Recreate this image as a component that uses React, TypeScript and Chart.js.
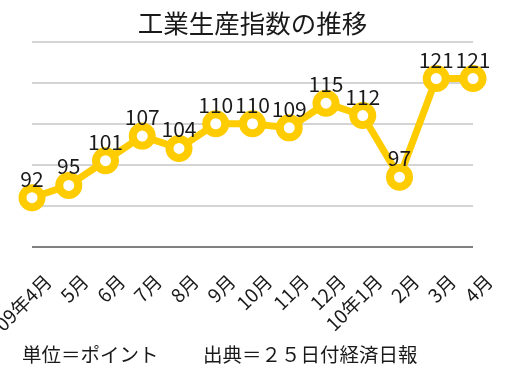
import React, { useEffect, useRef } from 'react';
import { Chart, registerables } from 'chart.js';

Chart.register(...registerables);

const categories = ['09年4月', '5月', '6月', '7月', '8月', '9月', '10月', '11月', '12月', '10年1月', '2月', '3月', '4月'];
const values = [92, 95, 101, 107, 104, 110, 110, 109, 115, 112, 97, 121, 121];
const yMin = 80;
const yMax = 130;
const yStep = 10;
const titleText = '工業生産指数の推移';
const noteUnit = '単位＝ポイント';
const noteSource = '出典＝２５日付経済日報';

const FONT = '"Noto Sans CJK JP", "Noto Sans", sans-serif';
const YELLOW = '#FFCC00';

const valueLabelPlugin = {
  id: 'valueLabels',
  afterDatasetsDraw(chart: any) {
    const ctx = chart.ctx;
    const meta = chart.getDatasetMeta(0);
    ctx.save();
    ctx.font = `21px ${FONT}`;
    ctx.fillStyle = '#1a1a1a';
    ctx.textAlign = 'center';
    ctx.textBaseline = 'middle';
    meta.data.forEach((el: any, i: number) => {
      ctx.fillText(String(values[i]), el.x, el.y - 19);
    });
    ctx.restore();
  },
};

export default function App() {
  const ref = useRef<HTMLCanvasElement | null>(null);

  useEffect(() => {
    if (!ref.current) return;
    const chart = new Chart(ref.current, {
      type: 'line',
      data: {
        labels: categories,
        datasets: [
          {
            data: values,
            borderColor: YELLOW,
            borderWidth: 7,
            backgroundColor: '#ffffff',
            pointBackgroundColor: '#ffffff',
            pointBorderColor: YELLOW,
            pointBorderWidth: 8,
            pointRadius: 9.5,
            pointHoverRadius: 9.5,
            tension: 0,
            fill: false,
            clip: false as any,
          },
        ],
      },
      options: {
        responsive: false,
        animation: false,
        layout: { padding: { left: 32, right: 51, top: 0, bottom: 0 } },
        plugins: {
          legend: { display: false },
          tooltip: { enabled: false },
          title: {
            display: true,
            text: titleText,
            color: '#1a1a1a',
            font: { family: FONT, size: 25.5, weight: 'normal' as any, lineHeight: 1.2 },
            padding: { top: 8, bottom: 3 },
          },
        },
        scales: {
          x: {
            type: 'category',
            offset: false,
            grid: { display: false },
            border: { display: false },
            ticks: {
              autoSkip: false,
              maxRotation: 45,
              minRotation: 45,
              color: '#1a1a1a',
              font: { family: FONT, size: 19 },
              padding: 15,
              labelOffset: 16,
            },
            afterFit(scale: any) {
              scale.height = 126;
              scale.paddingLeft = 0;
              scale.paddingRight = 0;
            },
          },
          y: {
            min: yMin,
            max: yMax,
            ticks: { display: false, stepSize: yStep },
            border: { display: false },
            grid: {
              drawTicks: false,
              color: (c: any) => (c.tick && c.tick.value === yMin ? '#808080' : '#d4d4d4'),
              lineWidth: 2,
            },
            afterFit(scale: any) {
              scale.width = 0;
            },
          },
        },
      },
      plugins: [valueLabelPlugin],
    });
    return () => chart.destroy();
  }, []);

  const noteStyle: React.CSSProperties = {
    position: 'absolute',
    top: 344,
    fontFamily: FONT,
    fontSize: 19.5,
    lineHeight: '20px',
    color: '#1a1a1a',
    whiteSpace: 'nowrap',
  };

  return (
    <div style={{ position: 'fixed', left: 0, top: 0, width: 524, height: 373, background: '#ffffff' }}>
      <canvas ref={ref} width={524} height={373} style={{ display: 'block' }} />
      <span style={{ ...noteStyle, left: 22 }}>{noteUnit}</span>
      <span style={{ ...noteStyle, left: 203 }}>{noteSource}</span>
    </div>
  );
}
